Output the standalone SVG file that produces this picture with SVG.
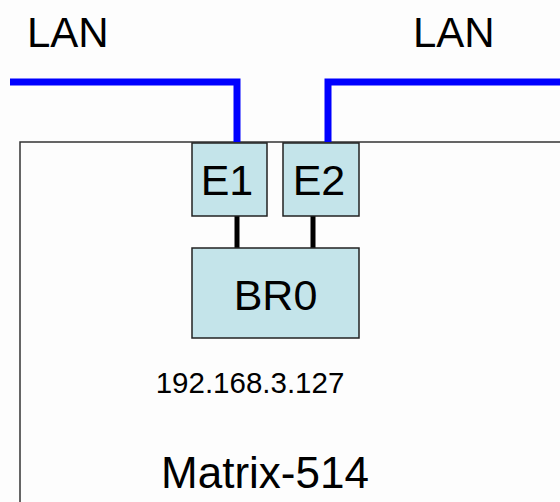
<svg xmlns="http://www.w3.org/2000/svg" width="560" height="502" viewBox="0 0 560 502">
<style>
.t{font-family:"Liberation Sans",Arial,sans-serif;fill:#000}
.box{fill:#c4e4ea;stroke:#222;stroke-width:1.5}
.lan{fill:none;stroke:#0000ff;stroke-width:7}
.link{stroke:#000;stroke-width:5}
</style>
<rect width="560" height="502" fill="#fdfdfd"/>
<g id="matrix">
<rect x="20" y="142" width="560" height="380" fill="none" stroke="#333" stroke-width="1.5"/>
<text class="t" x="265" y="488" font-size="44" text-anchor="middle">Matrix-514</text>
</g>
<g id="lan-left"><text class="t" x="27" y="47" font-size="42">LAN</text></g>
<g id="lan-right"><text class="t" x="413" y="47" font-size="42">LAN</text></g>
<g id="connectors">
<path class="lan" d="M10 82 H237 V142"/>
<path class="lan" d="M560 82 H328 V142"/>
<line class="link" x1="237" y1="216" x2="237" y2="248"/>
<line class="link" x1="313" y1="216" x2="313" y2="248"/>
</g>
<g id="e1">
<rect class="box" x="192" y="143" width="75" height="73"/>
<text class="t" x="227" y="195" font-size="43" text-anchor="middle">E1</text>
</g>
<g id="e2">
<rect class="box" x="283" y="143" width="76" height="73"/>
<text class="t" x="319" y="195" font-size="43" text-anchor="middle">E2</text>
</g>
<g id="br0">
<rect class="box" x="192" y="248" width="167" height="90"/>
<text class="t" x="275.5" y="310" font-size="43" text-anchor="middle">BR0</text>
<text class="t" x="250" y="393" font-size="29.5" text-anchor="middle" fill="#333">192.168.3.127</text>
</g>
</svg>
